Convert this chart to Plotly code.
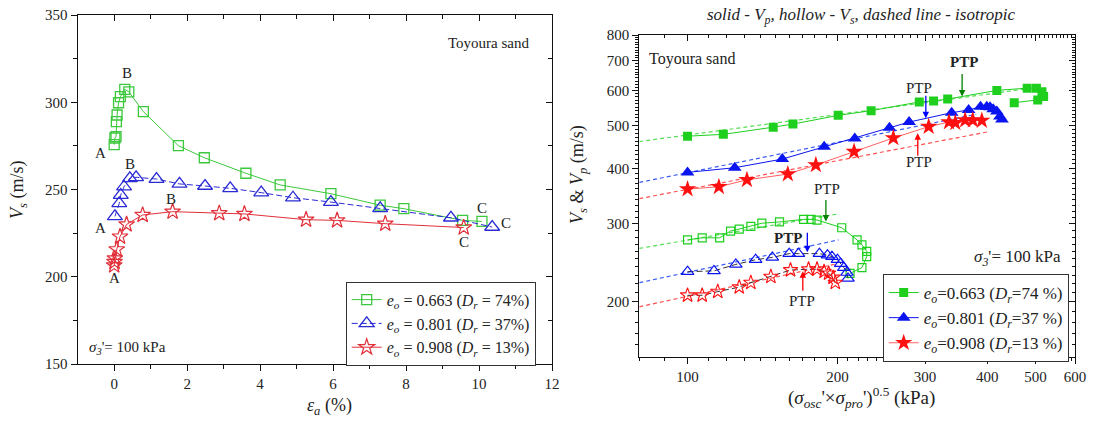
import math
import plotly.graph_objects as go

W, H = 1093, 423
FONT = "Liberation Serif"

# ---------------- Left panel: Vs vs axial strain ----------------
g_ea = [0, 0.02, 0.05, 0.06, 0.08, 0.12, 0.17, 0.29, 0.4, 0.8, 1.76, 2.47, 3.61, 4.55, 5.94, 7.29, 7.94, 9.55, 10.08]
g_vs = [275.7, 279.5, 280.3, 288.9, 292.7, 299.7, 303.2, 307.4, 306, 294.6, 275.1, 268.2, 259.3, 252.6, 247.6, 241, 239, 232.3, 231.7]

b_ea = [0.02, 0.14, 0.18, 0.27, 0.43, 0.6, 1.16, 1.79, 2.49, 3.18, 4.03, 4.9, 5.94, 7.29, 9.23, 10.36]
b_vs = [234.6, 242.1, 246.8, 251.6, 256.4, 257, 256, 253.2, 252, 250.7, 248.2, 245.3, 242.8, 239.2, 233.8, 228.5]

r_ea = [0, 0.01, 0.02, 0.07, 0.16, 0.34, 0.78, 1.6, 2.88, 3.57, 5.26, 6.11, 7.43, 9.58]
r_vs = [206.5, 208.5, 210.5, 215.7, 223, 230, 235.4, 237.3, 236.4, 236, 232.7, 232.3, 230.4, 228.2]

left_names = [
    "<i>e</i><sub><i>o</i></sub> = 0.663 (<i>D</i><sub><i>r</i></sub> = 74%)",
    "<i>e</i><sub><i>o</i></sub> = 0.801 (<i>D</i><sub><i>r</i></sub> = 37%)",
    "<i>e</i><sub><i>o</i></sub> = 0.908 (<i>D</i><sub><i>r</i></sub> = 13%)",
]
# A/B/C point labels (strain, Vs, text)
abc_labels = [
    (-0.37, 271.1, "A"), (0.36, 316.5, "B"), (10.07, 239.5, "C"),
    (-0.37, 227.9, "A"), (0.44, 264.4, "B"), (10.75, 230.8, "C"),
    (0.0, 199.4, "A"), (1.56, 244.7, "B"), (9.58, 219.8, "C"),
]

# ---------------- Right panel: Vs & Vp vs stress ----------------
# solid (Vp)
gp_s = [100, 118, 148.6, 162.8, 200.7, 233.7, 292, 312, 333, 418, 481, 502, 515, 519, 505, 453]
gp_v = [473, 477.5, 495.6, 503.7, 527, 540, 565, 568, 573.5, 600, 607, 607, 596, 581, 571, 563]

bp_s = [100, 124.4, 155, 188.1, 216.7, 254.4, 278.6, 339.2, 366.9, 387.6, 399, 405, 411, 418, 424, 428]
bp_v = [391.9, 401.5, 420, 447.8, 467.6, 494.2, 509, 534.3, 542, 551, 551, 550, 544, 538, 524, 516]

rp_s = [100, 115.6, 131.6, 159, 181, 216, 259, 305, 335, 345, 361, 374, 390]
rp_v = [359.4, 363.7, 377, 388.5, 407.3, 436.5, 468.7, 497, 509, 507, 514, 514, 513]

# hollow (Vs)
gs_s = [100, 107, 116, 122, 127, 134, 141, 153, 171, 177, 182, 204, 219, 224, 229, 229, 224, 212]
gs_v = [276, 279, 279, 289, 292, 296, 301, 303, 307, 307, 306, 294, 276, 269, 260, 253, 239, 232]

bs_s = [100, 113, 125, 137, 148, 160, 167, 184, 191, 195, 200, 203, 206, 209, 210]
bs_v = [234, 235, 243, 249, 252, 257, 257, 257, 255, 253, 249, 244, 239, 233, 226]

rs_s = [100, 107, 115, 127, 134, 147, 161, 175, 182, 188, 192, 196, 198]
rs_v = [207, 207, 211, 216, 221, 228, 236, 237, 237, 234, 232, 227, 221]

# isotropic (dashed) lines: end points
iso_gp_s, iso_gp_v = [80, 480], [460, 605]
iso_bp_s, iso_bp_v = [80, 380], [372, 530]
iso_rp_s, iso_rp_v = [80, 402], [342, 484]
iso_gs_s, iso_gs_v = [80, 201], [264, 316]
iso_bs_s, iso_bs_v = [80, 201], [221, 276]
iso_rs_s, iso_rs_v = [80, 200], [195, 244]

# PTP arrows: tip stress, tip velocity, tail offset px (dy), text offset (dx, dy), colour, bold
ptp = [
    (356, 581, -24, (2, -35), "green", True),
    (301, 519.5, -24, (-7, -30), "blue", False),
    (290, 480.5, 24, (1, 29), "red", False),
    (189.6, 303.8, -23, (1, -32), "green", False),
    (174, 258.7, -21, (-19, -14), "blue", True),
    (170.4, 234.4, 21, (-1, 30), "red", False),
]

right_names = [
    "<i>e</i><sub><i>o</i></sub>=0.663 (<i>D</i><sub><i>r</i></sub>=74 %)",
    "<i>e</i><sub><i>o</i></sub>=0.801 (<i>D</i><sub><i>r</i></sub>=37 %)",
    "<i>e</i><sub><i>o</i></sub>=0.908 (<i>D</i><sub><i>r</i></sub>=13 %)",
]

# colours
LG, LB, LR = "#3cc83c", "#2b2bd6", "#e0303a"
RG, RB, RR = "#1ecf1e", "#0a14f0", "#ff1010"
RGd, RBd, RRd = "#55dd55", "#3b5cf5", "#ff5050"

fig = go.Figure()

# ---- left traces ----
fig.add_trace(go.Scatter(x=g_ea, y=g_vs, mode="lines+markers", name=left_names[0],
                         line=dict(color=LG, width=1),
                         marker=dict(symbol="square-open", size=10, color=LG, line=dict(width=1.3)),
                         xaxis="x", yaxis="y", legend="legend"))
fig.add_trace(go.Scatter(x=b_ea, y=b_vs, mode="lines+markers", name=left_names[1],
                         line=dict(color=LB, width=1, dash="6px,3px"),
                         marker=dict(symbol="triangle-up-open", size=13, color=LB, line=dict(width=1.3)),
                         xaxis="x", yaxis="y", legend="legend"))
fig.add_trace(go.Scatter(x=r_ea, y=r_vs, mode="lines+markers", name=left_names[2],
                         line=dict(color=LR, width=1),
                         marker=dict(symbol="star-open", size=12, color=LR, line=dict(width=1.2)),
                         xaxis="x", yaxis="y", legend="legend"))

# ---- right traces: isotropic dashed lines ----
for s, v, c in [(iso_gp_s, iso_gp_v, RGd), (iso_bp_s, iso_bp_v, RBd), (iso_rp_s, iso_rp_v, RRd),
                (iso_gs_s, iso_gs_v, RGd), (iso_bs_s, iso_bs_v, RBd), (iso_rs_s, iso_rs_v, RRd)]:
    fig.add_trace(go.Scatter(x=s, y=v, mode="lines", line=dict(color=c, width=1.2, dash="4px,3px"),
                             showlegend=False, hoverinfo="skip", xaxis="x2", yaxis="y2"))

# Vs hollow
fig.add_trace(go.Scatter(x=gs_s, y=gs_v, mode="lines+markers", showlegend=False,
                         line=dict(color=RG, width=1),
                         marker=dict(symbol="square-open", size=8, color=RG, line=dict(width=1.2)),
                         xaxis="x2", yaxis="y2"))
fig.add_trace(go.Scatter(x=bs_s, y=bs_v, mode="lines+markers", showlegend=False,
                         line=dict(color="#333333", width=1, dash="6px,3px"),
                         marker=dict(symbol="triangle-up-open", size=11, color=RB, line=dict(width=1.2)),
                         xaxis="x2", yaxis="y2"))
fig.add_trace(go.Scatter(x=rs_s, y=rs_v, mode="lines+markers", showlegend=False,
                         line=dict(color="#333333", width=1, dash="6px,3px"),
                         marker=dict(symbol="star-open", size=11, color=RR, line=dict(width=1.1)),
                         xaxis="x2", yaxis="y2"))

# Vp solid
fig.add_trace(go.Scatter(x=gp_s, y=gp_v, mode="lines+markers", name=right_names[0],
                         line=dict(color=RG, width=1),
                         marker=dict(symbol="square", size=9, color=RG),
                         xaxis="x2", yaxis="y2", legend="legend2"))
fig.add_trace(go.Scatter(x=bp_s, y=bp_v, mode="lines+markers", name=right_names[1],
                         line=dict(color=RB, width=1),
                         marker=dict(symbol="triangle-up", size=12, color=RB),
                         xaxis="x2", yaxis="y2", legend="legend2"))
fig.add_trace(go.Scatter(x=rp_s, y=rp_v, mode="lines+markers", name=right_names[2],
                         line=dict(color="#ff6060", width=1),
                         marker=dict(symbol="star", size=13, color=RR),
                         xaxis="x2", yaxis="y2", legend="legend2"))

# dummy traces for mirrored (inward-tick) axes
for xa, ya in [("x3", "y"), ("x", "y3"), ("x4", "y2"), ("x2", "y4")]:
    fig.add_trace(go.Scatter(x=[], y=[], showlegend=False, hoverinfo="skip", xaxis=xa, yaxis=ya))

# ---------------- layout ----------------
LXD = [77.7 / W, 552 / W]
LYD = [1 - 364 / H, 1 - 15 / H]
RXD = [639.3 / W, 1075 / W]
RYD = [1 - 357.3 / H, 1 - 35 / H]

tickfont = dict(family=FONT, size=15, color="#222")
common = dict(showgrid=False, zeroline=False, showline=True, linecolor="#111", linewidth=1.3,
              tickcolor="#111", tickwidth=1.2, tickfont=tickfont, automargin=False)

x_major = [0, 2, 4, 6, 8, 10, 12]
x_minor = [1, 3, 5, 7, 9, 11]
y_major = [150, 200, 250, 300, 350]
y_minor = [175, 225, 275, 325]
s_major = [100, 200, 300, 400, 500, 600]
s_minor = [v for v in range(80, 600, 10) if v not in s_major]
v_major = [200, 300, 400, 500, 600, 700, 800]
v_minor = [v for v in range(160, 800, 10) if v not in v_major]

LXR = [-1, 12]
LYR = [150, 350]
RXR = [math.log10(80), math.log10(600)]
RYR = [math.log10(150), math.log10(800)]

fig.update_layout(
    width=W, height=H, margin=dict(l=0, r=0, t=0, b=0, autoexpand=False),
    paper_bgcolor="white", plot_bgcolor="white",
    font=dict(family=FONT, size=15, color="#222"),
    xaxis=dict(domain=LXD, anchor="y", range=LXR, tickmode="array", tickvals=x_major,
               ticks="outside", ticklen=6,
               minor=dict(tickmode="array", tickvals=x_minor, ticks="outside", ticklen=3.5,
                          tickcolor="#111", tickwidth=1.2), **common),
    yaxis=dict(domain=LYD, anchor="x", range=LYR, tickmode="array", tickvals=y_major,
               ticks="outside", ticklen=6,
               minor=dict(tickmode="array", tickvals=y_minor, ticks="outside", ticklen=3.5,
                          tickcolor="#111", tickwidth=1.2), **common),
    xaxis3=dict(overlaying="x", side="top", anchor="y", range=LXR, tickmode="array", tickvals=x_major,
                ticks="inside", ticklen=6, showticklabels=False,
                minor=dict(tickmode="array", tickvals=x_minor, ticks="inside", ticklen=3.5,
                           tickcolor="#111", tickwidth=1.2), **common),
    yaxis3=dict(overlaying="y", side="right", anchor="x", range=LYR, tickmode="array", tickvals=y_major,
                ticks="inside", ticklen=6, showticklabels=False,
                minor=dict(tickmode="array", tickvals=y_minor, ticks="inside", ticklen=3.5,
                           tickcolor="#111", tickwidth=1.2), **common),
    xaxis2=dict(domain=RXD, anchor="y2", type="log", range=RXR, tickmode="array", tickvals=s_major,
                ticktext=[str(v) for v in s_major], ticks="outside", ticklen=6,
                minor=dict(tickmode="array", tickvals=s_minor, ticks="outside", ticklen=3,
                           tickcolor="#111", tickwidth=1), **common),
    yaxis2=dict(domain=RYD, anchor="x2", type="log", range=RYR, tickmode="array", tickvals=v_major,
                ticktext=[str(v) for v in v_major], ticks="outside", ticklen=6,
                minor=dict(tickmode="array", tickvals=v_minor, ticks="outside", ticklen=3,
                           tickcolor="#111", tickwidth=1), **common),
    xaxis4=dict(overlaying="x2", side="top", anchor="y2", type="log", range=RXR, tickmode="array",
                tickvals=s_major, ticks="inside", ticklen=6, showticklabels=False,
                minor=dict(tickmode="array", tickvals=s_minor, ticks="inside", ticklen=3,
                           tickcolor="#111", tickwidth=1), **common),
    yaxis4=dict(overlaying="y2", side="right", anchor="x2", type="log", range=RYR, tickmode="array",
                tickvals=v_major, ticks="inside", ticklen=6, showticklabels=False,
                minor=dict(tickmode="array", tickvals=v_minor, ticks="inside", ticklen=3,
                           tickcolor="#111", tickwidth=1), **common),
    legend=dict(x=345.7 / W, y=1 - 281.7 / H, xanchor="left", yanchor="top",
                bordercolor="#333", borderwidth=1, bgcolor="white",
                font=dict(family=FONT, size=16, color="#222"), tracegroupgap=0, itemwidth=30),
    legend2=dict(x=882.7 / W, y=1 - 274 / H, xanchor="left", yanchor="top",
                 bordercolor="#333", borderwidth=1, bgcolor="white",
                 font=dict(family=FONT, size=17, color="#222"), tracegroupgap=0, itemwidth=30),
    showlegend=True,
)


def ptext(px, py, text, size, xanchor="center", angle=0):
    return dict(x=px / W, y=1 - py / H, xref="paper", yref="paper", text=text, showarrow=False,
                xanchor=xanchor, yanchor="middle", textangle=angle,
                font=dict(family=FONT, size=size, color="#222"))


ann = []
# left panel labels
for xv, yv, t in abc_labels:
    ann.append(dict(x=xv, y=yv, xref="x", yref="y", text=t, showarrow=False,
                    xanchor="center", yanchor="middle",
                    font=dict(family=FONT, size=15, color="#222")))
ann.append(ptext(489, 43, "Toyoura sand", 15))
ann.append(ptext(87, 348, "<i>σ</i><sub><i>3</i></sub>'= 100 kPa", 15, xanchor="left"))
ann.append(ptext(18, 190, "<i>V</i><sub><i>s</i></sub> (m/s)", 18, angle=-90))
ann.append(ptext(329, 406, "<i>ε</i><sub><i>a</i></sub> (%)", 18))

# right panel texts
ann.append(ptext(861, 16, "<i>solid - V<sub>p</sub>, hollow - V<sub>s</sub>, dashed line - isotropic</i>", 17))
ann.append(ptext(647, 59, "Toyoura sand", 16, xanchor="left"))
ann.append(ptext(1063, 258, "<i>σ</i><sub><i>3</i></sub>'= 100 kPa", 17, xanchor="right"))
ann.append(ptext(578, 175, "<i>V</i><sub><i>s</i></sub> &amp; <i>V</i><sub><i>p</i></sub> (m/s)", 18, angle=-90))
ann.append(ptext(861, 397, "(<i>σ</i><sub><i>osc</i></sub>'×<i>σ</i><sub><i>pro</i></sub>')<sup>0.5</sup> (kPa)", 19))

for s, v, tail, (tdx, tdy), col, bold in ptp:
    ann.append(dict(x=math.log10(s), y=math.log10(v), xref="x2", yref="y2", text="",
                    showarrow=True, ax=0, ay=tail, arrowhead=2, arrowsize=1, arrowwidth=1.3,
                    arrowcolor=col, standoff=0))
    ann.append(dict(x=math.log10(s), y=math.log10(v), xref="x2", yref="y2",
                    text="<b>PTP</b>" if bold else "PTP", showarrow=True, arrowcolor="rgba(0,0,0,0)",
                    ax=tdx, ay=tdy, font=dict(family=FONT, size=15, color="#222")))

fig.update_layout(annotations=ann)
fig.write_html("out.html")
